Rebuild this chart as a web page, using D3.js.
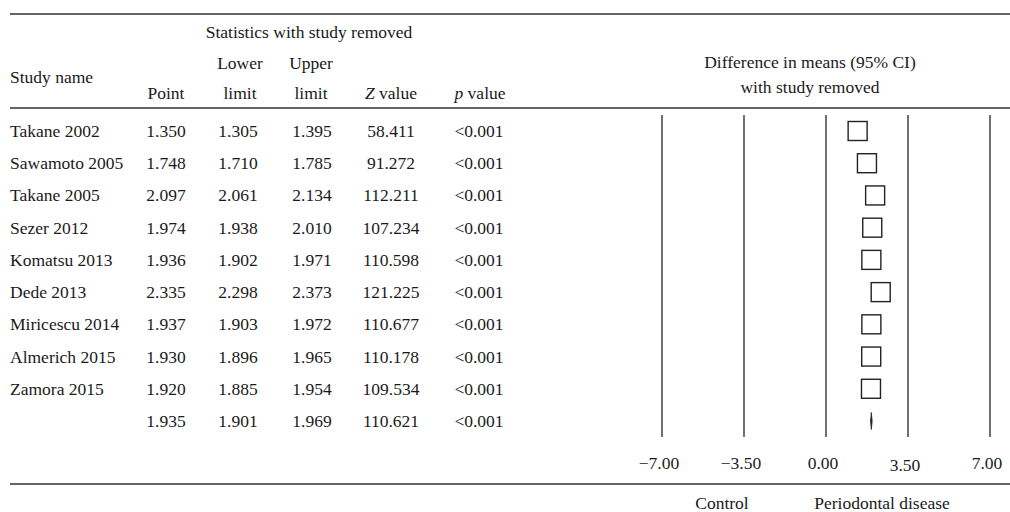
<!DOCTYPE html>
<html><head><meta charset="utf-8">
<script src="https://cdn.jsdelivr.net/npm/d3@7"></script>
<style>body{margin:0;background:#fff}text{font-family:"Liberation Serif","DejaVu Serif",serif;fill:#1a1a1a}</style>
</head><body><svg id="c" width="1010" height="512"></svg>
<script>
const studies = ["Takane 2002","Sawamoto 2005","Takane 2005","Sezer 2012","Komatsu 2013","Dede 2013","Miricescu 2014","Almerich 2015","Zamora 2015",""];
const points = [1.350,1.748,2.097,1.974,1.936,2.335,1.937,1.930,1.920,1.935];
const lowers = [1.305,1.710,2.061,1.938,1.902,2.298,1.903,1.896,1.885,1.901];
const uppers = [1.395,1.785,2.134,2.010,1.971,2.373,1.972,1.965,1.954,1.969];
const zvals = [58.411,91.272,112.211,107.234,110.598,121.225,110.677,110.178,109.534,110.621];
const pvals = ["<0.001","<0.001","<0.001","<0.001","<0.001","<0.001","<0.001","<0.001","<0.001","<0.001"];
const ticks = [-7,-3.5,0,3.5,7];

const svg = d3.select("#c");
const fs = 17.5;
const x = d3.scaleLinear().domain([-7,7]).range([662,990]);
const y = d3.scaleLinear().domain([0,9]).range([131,421]);

// horizontal rules
[14,108,484].forEach(yy=>svg.append("line").attr("x1",10).attr("x2",1010).attr("y1",yy).attr("y2",yy).attr("stroke","#333").attr("stroke-width",1.4));

// headers
const hdr = (t,xx,yy,anchor)=>svg.append("text").attr("x",xx).attr("y",yy).attr("font-size",fs).attr("text-anchor",anchor||"middle").text(t);
hdr("Statistics with study removed",309,38);
hdr("Study name",10,83,"start");
hdr("Point",166,99);
hdr("Lower",240,69); hdr("limit",240,99);
hdr("Upper",311,69); hdr("limit",311,99);
const zt = svg.append("text").attr("x",391).attr("y",99).attr("font-size",fs).attr("text-anchor","middle");
zt.append("tspan").attr("font-style","italic").text("Z"); zt.append("tspan").text(" value");
const pt = svg.append("text").attr("x",480).attr("y",99).attr("font-size",fs).attr("text-anchor","middle");
pt.append("tspan").attr("font-style","italic").text("p"); pt.append("tspan").text(" value");
hdr("Difference in means (95% CI)",810,68);
hdr("with study removed",810,93);

// table rows
const f3 = d3.format(".3f");
const rows = svg.append("g");
studies.forEach((s,i)=>{
  const yy = y(i)+6;
  rows.append("text").attr("x",10).attr("y",yy).attr("font-size",fs).text(s);
  rows.append("text").attr("x",166).attr("y",yy).attr("font-size",fs).attr("text-anchor","middle").text(f3(points[i]));
  rows.append("text").attr("x",238).attr("y",yy).attr("font-size",fs).attr("text-anchor","middle").text(f3(lowers[i]));
  rows.append("text").attr("x",312).attr("y",yy).attr("font-size",fs).attr("text-anchor","middle").text(f3(uppers[i]));
  rows.append("text").attr("x",391).attr("y",yy).attr("font-size",fs).attr("text-anchor","middle").text(f3(zvals[i]));
  rows.append("text").attr("x",479).attr("y",yy).attr("font-size",fs).attr("text-anchor","middle").text(pvals[i]);
});

// vertical grid lines
ticks.forEach(t=>svg.append("line").attr("x1",x(t)).attr("x2",x(t)).attr("y1",115).attr("y2",437).attr("stroke","#111").attr("stroke-width",1.2));

// tick labels
const tf = d3.format(".2f");
ticks.forEach(t=>svg.append("text").attr("x",x(t)-3).attr("y",t===3.5?471:469).attr("font-size",fs).attr("text-anchor","middle").text(tf(t)));

// squares for studies
const sq = 19;
for(let i=0;i<9;i++){
  svg.append("rect").attr("x",x(points[i])-sq/2).attr("y",y(i)-sq/2).attr("width",sq).attr("height",sq)
    .attr("fill","#fff").attr("stroke","#222").attr("stroke-width",1.4);
}
// summary diamond (very thin)
const si = 9;
svg.append("path").attr("d",`M${x(lowers[si])},${y(si)} L${x(points[si])},${y(si)-8.5} L${x(uppers[si])},${y(si)} L${x(points[si])},${y(si)+8.5} Z`)
  .attr("fill","#222").attr("stroke","#222").attr("stroke-width",0.8);

// footer labels
hdr("Control",722,509);
hdr("Periodontal disease",882,509);
</script></body></html>
